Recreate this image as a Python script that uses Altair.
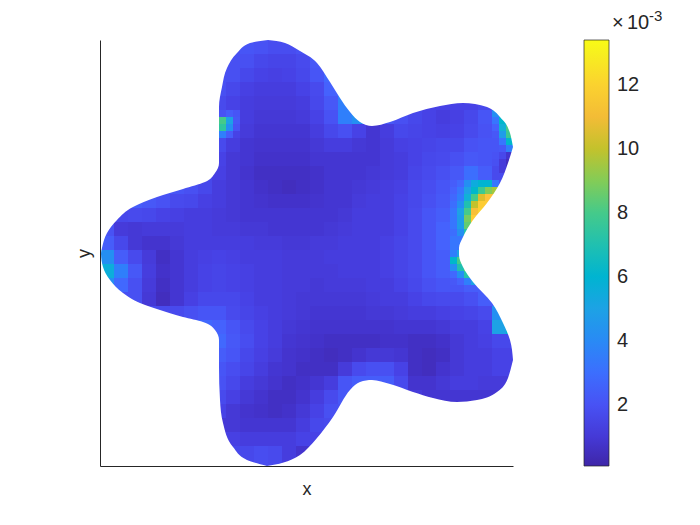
import altair as alt
import pandas as pd

FONT = "Liberation Sans"
INK = "#262626"

# Field values, in tenths of 1e-3, on a 14-unit grid (columns left to right, rows top to bottom)
grid_x0 = 100
grid_y0 = 40
grid_step = 14
field = [
 [19,19,19,19,19,19,19,19,19,19,21,20,18,18,20,20,20,20,20,20,20,20,20,20,20,20,20,20,20,20],
 [19,19,19,19,19,19,19,19,19,19,19,16,15,15,17,22,22,22,22,22,22,22,22,22,22,22,22,22,22,22],
 [19,19,19,19,19,19,19,19,19,19,16,14,13,14,16,21,28,28,28,28,28,28,28,28,28,28,28,28,28,28],
 [19,19,19,19,19,19,19,19,19,16,13,12,12,12,14,17,26,33,33,24,20,17,16,16,16,16,16,16,19,24],
 [17,17,17,17,17,17,17,17,17,14,12,11,11,11,12,16,22,36,42,24,22,19,16,14,14,14,14,16,24,50],
 [36,36,36,36,36,36,36,36,36,17,12,10,10,10,11,14,20,36,42,24,22,19,16,14,12,13,16,21,42,70],
 [65,65,65,65,65,65,65,65,65,24,11, 9, 9, 9, 9,12,16,19,14, 9,12,16,15,14,13,14,17,20,36,75],
 [17,17,17,17,17,17,17,17,17,12, 9, 8, 8, 8, 8,10,12,12,10, 9,11,13,14,15,16,16,20,21,22,50],
 [14,14,14,14,14,14,14,14,14,10, 9, 7, 7, 7, 7, 9, 9, 9, 9, 9,11,12,14,16,17,19,22,21,16, 8],
 [17,17,17,17,17,17,17,17,13,10, 8, 6, 6, 6, 6, 7, 9, 9, 9,10,11,12,15,17,19,22,30,24,17,17],
 [22,22,22,22,22,21,19,16,12,10, 9, 7, 6, 5, 6, 7, 9, 9,10,11,12,13,16,18,21,28,55,60,60,60],
 [26,26,24,22,20,17,16,13,12,10, 9, 8, 7, 7, 7, 8, 9, 9,11,12,12,14,16,19,22,42,75,115,115,115],
 [24,16,17,16,14,13,12,12,11,10, 9, 9, 9, 9, 9, 9, 9,10,12,12,12,14,17,21,24,43,95,95,95,95],
 [20,11,10,11,11,11,12,12,11,11,10,10, 9, 9, 9, 9,10,11,12,12,12,14,17,21,26,36,70,70,70,70],
 [24,16,10, 8, 8,10,12,12,12,12,12,11,11,10,10,11,11,12,12,12,13,15,17,21,26,33,33,33,33,33],
 [42,24,17,11, 6, 9,12,13,14,13,12,12,12,11,11,11,12,12,12,12,13,15,17,21,24,60,60,60,60,60],
 [56,36,22,12, 7, 9,12,14,15,14,13,12,12,11,11,11,11,12,12,12,13,15,17,21,24,30,75,75,75,75],
 [42,28,19,11, 6, 9,12,14,15,14,13,12,12,11,11,10,11,11,11,12,12,14,16,19,21,21,24,24,24,24],
 [19,19,19,10, 5, 9,13,16,16,16,14,12,12,11,10,10,10,10,10,11,12,12,14,16,17,17,19,24,24,24],
 [17,17,17,17,17,17,19,21,21,17,15,13,12,11,10, 9, 9, 9, 9,10,10,11,12,12,13,14,15,17,42,42],
 [28,28,28,28,28,28,28,28,26,21,17,14,12,10, 9, 8, 8, 8, 8, 8, 8, 9, 9, 9,10,12,12,14,50,60],
 [28,28,28,28,28,28,28,28,28,22,18,14,12, 9, 8, 7, 6, 6, 6, 6, 7, 7, 6, 6, 7,10,12,13,16,16],
 [24,24,24,24,24,24,24,24,24,21,16,13,11, 8, 7, 6, 5, 6, 8,10,10, 9, 6, 5, 6,10,12,12,14,14],
 [21,21,21,21,21,21,21,21,21,18,15,12, 9, 8, 6, 6, 6,11,17,19,19,14, 6, 5, 8,10,12,12,14,14],
 [20,20,20,20,20,20,20,20,20,16,12,10, 8, 6, 7, 9,12,21,24,24,24,17, 8, 8,10,12,12,11,11,11],
 [17,17,17,17,17,17,17,17,17,13,10, 8, 6, 6, 8,12,17,22,22,22,22,17,11, 9, 9, 9, 9, 9, 9, 9],
 [14,14,14,14,14,14,14,14,14,10, 8, 7, 6, 7,10,14,19,19,19,19,19,19,19,19,19,19,19,19,19,19],
 [10,10,10,10,10,10,10,10,10,10, 9, 9, 9, 9,12,16,17,17,17,17,17,17,17,17,17,17,17,17,17,17],
 [13,13,13,13,13,13,13,13,13,13,12,12,12,12,14,14,14,14,14,14,14,14,14,14,14,14,14,14,14,14],
 [16,16,16,16,16,16,16,16,16,16,16,18,17,12, 8, 8, 8, 8, 8, 8, 8, 8, 8, 8, 8, 8, 8, 8, 8, 8],
 [16,16,16,16,16,16,16,16,16,16,16,18,17,12, 8, 8, 8, 8, 8, 8, 8, 8, 8, 8, 8, 8, 8, 8, 8, 8],
]

# Finer readings at the hot spots: (left, top, tenths of 1e-3) on a 7-unit grid
fine_hot = [
 (450,180,24),(457,180,28),(464,180,42),(471,180,55),(478,180,60),(485,180,60),(492,180,33),(499,180,20),
 (450,187,26),(457,187,33),(464,187,50),(471,187,62),(478,187,78),(485,187,90),(492,187,95),(499,187,36),
 (450,194,28),(457,194,36),(464,194,58),(471,194,80),(478,194,105),(485,194,115),(492,194,115),(499,194,105),
 (450,201,30),(457,201,42),(464,201,70),(471,201,100),(478,201,118),(485,201,118),(492,201,118),
 (450,208,33),(457,208,50),(464,208,80),(471,208,112),(478,208,120),(485,208,118),
 (450,215,33),(457,215,48),(464,215,88),(471,215,118),(478,215,112),
 (450,222,33),(457,222,48),(464,222,85),(471,222,112),
 (450,229,30),(457,229,42),(464,229,70),
 (219,110,20),(226,110,24),(233,110,21),
 (212,117,80),(219,117,80),(226,117,50),(233,117,22),
 (212,124,75),(219,124,75),(226,124,42),(233,124,20),
 (212,131,36),(219,131,36),(226,131,24),(233,131,14),
 (450,250,36),(457,250,50),
 (450,257,62),(457,257,80),(464,257,80),
 (450,264,42),(457,264,70),(464,264,85),
 (450,271,28),(457,271,42),(464,271,72),(471,271,72),
 (450,278,22),(457,278,26),(464,278,36),(471,278,50),
 (492,117,33),(499,117,62),(506,117,75),
 (492,124,26),(499,124,58),(506,124,80),
 (492,131,22),(499,131,48),(506,131,78),
 (492,138,21),(499,138,33),(506,138,62),
 (492,145,21),(499,145,22),(506,145,36),
 (492,152,20),(499,152,16),(506,152,8),
 (492,159,19),(499,159,11),(506,159,5),
 (492,166,17),(499,166,11),(506,166,8),
]

# Outline of the shape
left_edge = [(268,40),(250,43),(237,53),(227,68),(222,87),(219,107),(219,130),(219,163),(215,173),(205,182),
             (183,189),(157,197),(133,207),(117,220),(107,233),(102,248),(101,253),(103,267),(110,280),(123,293),
             (140,303),(160,310),(183,317),(203,322),(215,330),(219,340),(219,367),(220,400),(223,423),(233,447),
             (247,460),(267,466)]
upper_edge = [(268,40),(285,43),(300,51),(317,63),(330,82),(340,98),(350,112),(360,122),(372,126),(390,122),
              (413,113),(440,106),(463,103),(487,107),(500,117),(510,133),(513,147)]
lower_edge = [(267,466),(300,455),(317,438),(333,417),(350,390),(360,382),(372,380),(390,384),(413,392),(433,398),
              (457,402),(477,400),(497,392),(508,378),(513,360)]
right_edge = [(513,147),(508,163),(500,183),(487,203),(473,220),(463,237),(459,248),(459,255),(463,267),(473,282),
              (492,303),(503,323),(510,340),(513,360)]

# Colourbar
bar_ticks = [2, 4, 6, 8, 10, 12]
c_min, c_max = 0.09, 13.4
parula = [(.2422,.1504,.6603),(.2647,.1978,.7952),(.2783,.2559,.8991),(.2810,.3228,.9579),(.2699,.3892,.9906),
          (.2206,.4603,.9973),(.1786,.5289,.9682),(.1540,.5902,.9218),(.1248,.6459,.8883),(.0689,.6948,.8394),
          (.0067,.7312,.7660),(.1408,.7584,.6842),(.2161,.7843,.5923),(.3406,.8008,.4789),(.5044,.7993,.3480),
          (.6720,.7793,.2227),(.8203,.7498,.1535),(.9393,.7288,.2100),(.9970,.7659,.2199),(.9786,.8386,.1766),
          (.9597,.9135,.1423),(.9769,.9839,.0805)]
parula_hex = ["#%02x%02x%02x" % tuple(round(c * 255) for c in rgb) for rgb in parula]

x_scale = alt.Scale(domain=[100, 513], nice=False, zero=False)
y_scale = alt.Scale(domain=[466, 40], nice=False, zero=False)
c_scale = alt.Scale(domain=[c_min, c_max], range=parula_hex, clamp=True)

cells = pd.DataFrame(
    [{"x": grid_x0 + grid_step * c, "x2": grid_x0 + grid_step * (c + 1),
      "y": grid_y0 + grid_step * r, "y2": grid_y0 + grid_step * (r + 1), "v": v / 10}
     for r, row in enumerate(field) for c, v in enumerate(row)])
fine = pd.DataFrame([{"x": x, "x2": x + 7, "y": y, "y2": y + 7, "v": v / 10} for x, y, v in fine_hot])

x_axis = alt.Axis(title="x", labels=False, ticks=False, grid=False, domainColor=INK, domainWidth=1, zindex=1,
                  titleFont=FONT, titleFontSize=18, titleFontWeight="normal", titleColor=INK, titlePadding=14)
y_axis = alt.Axis(title="y", labels=False, ticks=False, grid=False, domainColor=INK, domainWidth=1, zindex=1,
                  titleFont=FONT, titleFontSize=18, titleFontWeight="normal", titleColor=INK, titlePadding=7)

heat = alt.Chart(cells).mark_rect(clip=True, strokeWidth=0).encode(
    x=alt.X("x:Q", scale=x_scale, axis=x_axis),
    x2="x2:Q",
    y=alt.Y("y:Q", scale=y_scale, axis=y_axis),
    y2="y2:Q",
    color=alt.Color("v:Q", scale=c_scale, legend=alt.Legend(
        orient="none", legendX=484, legendY=0, title=None, type="gradient",
        gradientLength=426, gradientThickness=25, gradientStrokeColor=INK, gradientStrokeWidth=0.7,
        values=bar_ticks, labelFont=FONT, labelFontSize=20, labelColor=INK, labelOffset=8)),
)
heat_fine = alt.Chart(fine).mark_rect(clip=True, strokeWidth=0).encode(
    x=alt.X("x:Q", scale=x_scale, axis=x_axis), x2="x2:Q",
    y=alt.Y("y:Q", scale=y_scale, axis=y_axis), y2="y2:Q",
    color=alt.Color("v:Q", scale=c_scale, legend=None),
)

def horizontal_mask(points, far):
    df = pd.DataFrame(points, columns=["x", "y"]).assign(far=far)
    return alt.Chart(df).mark_area(orient="horizontal", color="white", interpolate="monotone", clip=True).encode(
        x=alt.X("x:Q", scale=x_scale, axis=x_axis), x2="far:Q",
        y=alt.Y("y:Q", scale=y_scale, axis=y_axis))

def vertical_mask(points, far):
    df = pd.DataFrame(points, columns=["x", "y"]).assign(far=far)
    return alt.Chart(df).mark_area(orient="vertical", color="white", interpolate="monotone", clip=True).encode(
        x=alt.X("x:Q", scale=x_scale, axis=x_axis),
        y=alt.Y("y:Q", scale=y_scale, axis=y_axis), y2="far:Q")

def note(text, px, py, size):
    return alt.Chart(pd.DataFrame({"t": [text]})).mark_text(
        font=FONT, fontSize=size, color=INK, align="left", baseline="alphabetic").encode(
        text="t:N", x=alt.value(px), y=alt.value(py))

chart = alt.layer(
    heat, heat_fine,
    horizontal_mask(left_edge, 100),
    vertical_mask(upper_edge, 40),
    vertical_mask(lower_edge, 466),
    horizontal_mask(right_edge, 513),
    note("×", 512, -11, 20),
    note("10", 527, -11, 20),
    note("-3", 549, -19, 15),
).resolve_scale(x="shared", y="shared", color="shared").properties(
    width=413, height=426,
    padding={"left": 92, "top": 32, "right": 179, "bottom": 51},
    autosize=alt.AutoSizeParams(type="none"),
).configure_view(stroke=None)

chart.save("out.html", embed_options={"renderer": "svg", "actions": False})
